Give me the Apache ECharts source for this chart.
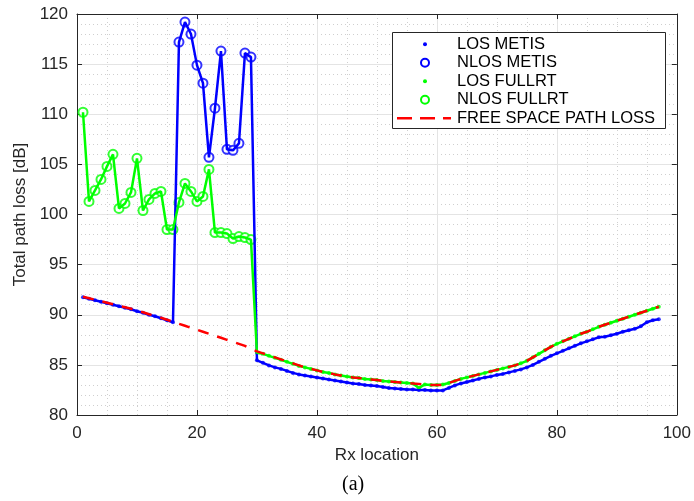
<!DOCTYPE html>
<html>
<head>
<meta charset="utf-8">
<script src="https://cdn.jsdelivr.net/npm/echarts@6/dist/echarts.min.js"></script>
<style>
  html, body { margin: 0; padding: 0; background: #fff; }
  #chart { width: 694px; height: 501px; }
</style>
</head>
<body>
<div id="chart"></div>
<script>
// Receiver positions along the route
const rxLocation = [
  1, 2, 3, 4, 5, 6, 7, 8, 9, 10, 11, 12, 13, 14, 15, 16, 17, 18, 19, 20,
  21, 22, 23, 24, 25, 26, 27, 28, 29, 30, 31, 32, 33, 34, 35, 36, 37, 38, 39, 40,
  41, 42, 43, 44, 45, 46, 47, 48, 49, 50, 51, 52, 53, 54, 55, 56, 57, 58, 59, 60,
  61, 62, 63, 64, 65, 66, 67, 68, 69, 70, 71, 72, 73, 74, 75, 76, 77, 78, 79, 80,
  81, 82, 83, 84, 85, 86, 87, 88, 89, 90, 91, 92, 93, 94, 95, 96, 97
];

// METIS path loss [dB]
const metisPathLoss = [
  91.75, 91.6, 91.45, 91.3, 91.15, 91.0, 90.85, 90.7, 90.55, 90.35, 90.2, 90.0, 89.85, 89.65, 89.45, 89.25,
  117.2, 119.2, 118.0, 114.9, 113.1, 105.7, 110.6, 116.3, 106.5, 106.4, 107.1, 116.1, 115.7,
  85.45, 85.2, 84.95, 84.75, 84.6, 84.4, 84.2, 84.05, 83.95, 83.85, 83.75, 83.65, 83.55, 83.45, 83.35, 83.25,
  83.15, 83.1, 83.0, 82.95, 82.9, 82.8, 82.7, 82.65, 82.6, 82.55, 82.55, 82.5, 82.5, 82.45, 82.45, 82.45,
  82.7, 82.95, 83.15, 83.3, 83.45, 83.6, 83.75, 83.85, 84.0, 84.1, 84.25, 84.4, 84.55, 84.75, 85.0, 85.3,
  85.6, 85.9, 86.15, 86.4, 86.65, 86.9, 87.15, 87.35, 87.55, 87.75, 87.8, 87.95, 88.1, 88.3, 88.45, 88.6,
  88.85, 89.25, 89.45, 89.55
];

// Full ray-tracing path loss [dB]
const fullrtPathLoss = [
  110.2, 101.3, 102.4, 103.5, 104.8, 106.0, 100.6, 101.1, 102.2, 105.6, 100.4, 101.5, 102.1, 102.3, 98.5, 98.5,
  101.2, 103.1, 102.3, 101.3, 101.8, 104.5, 98.2, 98.2, 98.1, 97.6, 97.8, 97.7, 97.5,
  86.2, 86.1, 85.9, 85.7, 85.5, 85.3, 85.1, 84.9, 84.75, 84.6, 84.45, 84.3, 84.2, 84.05, 83.95, 83.85,
  83.75, 83.7, 83.6, 83.55, 83.5, 83.4, 83.35, 83.3, 83.25, 83.2, 83.15, 82.7, 83.05, 83.0, 83.0, 83.05,
  83.2, 83.4, 83.6, 83.75, 83.9, 84.05, 84.2, 84.35, 84.5, 84.65, 84.8, 84.95, 85.15, 85.4, 85.75, 86.1,
  86.45, 86.8, 87.1, 87.35, 87.6, 87.85, 88.1, 88.3, 88.55, 88.8, 89.0, 89.2, 89.4, 89.6, 89.8, 90.0,
  90.2, 90.4, 90.6, 90.8
];

// Free space path loss [dB]
const fsplPathLoss = [
  91.8, 91.65, 91.5, 91.35, 91.2, 91.05, 90.9, 90.75, 90.6, 90.4, 90.25, 90.05, 89.9, 89.7, 89.5, 89.3,
  89.1, 88.9, 88.7, 88.5, 88.3, 88.1, 87.9, 87.7, 87.5, 87.3, 87.1, 86.9, 86.6,
  86.35, 86.15, 85.95, 85.75, 85.55, 85.35, 85.15, 84.95, 84.75, 84.6, 84.45, 84.3, 84.2, 84.05, 83.95, 83.85,
  83.75, 83.7, 83.6, 83.55, 83.5, 83.4, 83.35, 83.3, 83.25, 83.2, 83.15, 83.1, 83.05, 83.0, 83.0, 83.0,
  83.2, 83.4, 83.6, 83.75, 83.9, 84.05, 84.2, 84.35, 84.5, 84.65, 84.8, 84.95, 85.15, 85.4, 85.75, 86.1,
  86.45, 86.8, 87.1, 87.35, 87.6, 87.85, 88.1, 88.3, 88.55, 88.8, 89.0, 89.2, 89.4, 89.6, 89.8, 90.0,
  90.2, 90.4, 90.6, 90.8
];

// Receiver locations without line of sight, as [first, last]
const metisNlosRange = [17, 29];
const fullrtNlosRange = [1, 29];

// Axis ticks
const xTicks = [0, 20, 40, 60, 80, 100];
const yTicks = [80, 85, 90, 95, 100, 105, 110, 115, 120];

const legendNames = ['LOS METIS', 'NLOS METIS', 'LOS FULLRT', 'NLOS FULLRT', 'FREE SPACE PATH LOSS'];

const BLUE = '#0000ff';
const GREEN = '#00ff00';
const RED = '#ff0000';
const INK = '#262626';
const FONT = '"Liberation Sans", Arial, Helvetica, sans-serif';

function pairs(values) {
  return rxLocation.map((x, i) => [x, values[i]]);
}
function pick(values, range, inside) {
  return rxLocation
    .map((x, i) => [x, values[i]])
    .filter(p => (p[0] >= range[0] && p[0] <= range[1]) === inside);
}

// Legend box geometry
const LEG_LEFT = 396;        // left of the icon slot
const LEG_ICON_W = 55;       // icon slot width
const LEG_TOP = 35;          // top of the first row
const LEG_ROW = 18.5;        // row pitch
const rowCenter = i => LEG_TOP + LEG_ROW / 2 + i * LEG_ROW;
const iconCx = LEG_LEFT + LEG_ICON_W / 2 + 1.5;

const legendMarks = [
  { type: 'circle', z: 15, shape: { cx: iconCx, cy: rowCenter(0), r: 2 }, style: { fill: BLUE } },
  { type: 'circle', z: 15, shape: { cx: iconCx, cy: rowCenter(1), r: 4 }, style: { fill: 'none', stroke: BLUE, lineWidth: 2 } },
  { type: 'circle', z: 15, shape: { cx: iconCx, cy: rowCenter(2), r: 2 }, style: { fill: GREEN } },
  { type: 'circle', z: 15, shape: { cx: iconCx, cy: rowCenter(3), r: 4 }, style: { fill: 'none', stroke: GREEN, lineWidth: 2 } },
  { type: 'line', z: 15, shape: { x1: LEG_LEFT + 1, y1: rowCenter(4), x2: LEG_LEFT + LEG_ICON_W, y2: rowCenter(4) },
    style: { stroke: RED, lineWidth: 2.5, lineDash: [15, 8] } }
];

const chart = echarts.init(document.getElementById('chart'), null, { renderer: 'canvas' });

const baseX = {
  type: 'value',
  min: xTicks[0],
  max: xTicks[xTicks.length - 1],
  interval: xTicks[1] - xTicks[0]
};
const baseY = {
  type: 'value',
  min: yTicks[0],
  max: yTicks[yTicks.length - 1],
  interval: yTicks[1] - yTicks[0]
};

const axisLine = { show: true, onZero: false, lineStyle: { color: INK, width: 1 } };
const axisTick = { show: true, inside: true, length: 5, lineStyle: { color: INK, width: 1 } };
const majorGrid = { show: true, lineStyle: { color: '#e4e4e4', width: 1 } };
const minorGrid = { show: true, lineStyle: { color: '#cfcfcf', width: 1, type: [1, 3] } };

const option = {
  animation: false,
  backgroundColor: '#fff',
  grid: { left: 77, right: 16, top: 14, bottom: 86, containLabel: false },
  title: {
    text: '(a)',
    left: 342,
    top: 475,
    padding: 0,
    textStyle: { fontFamily: '"Liberation Serif", "Times New Roman", serif', fontSize: 20, fontWeight: 'normal', color: '#000' }
  },
  xAxis: [
    Object.assign({}, baseX, {
      position: 'bottom',
      name: 'Rx location',
      nameLocation: 'middle',
      nameGap: 29,
      nameTextStyle: { fontSize: 17, color: INK, fontFamily: FONT },
      axisLine: axisLine,
      axisTick: axisTick,
      axisLabel: { fontSize: 17, color: INK, fontFamily: FONT, margin: 10 },
      splitLine: majorGrid,
      minorTick: { show: false, splitNumber: 4 },
      minorSplitLine: minorGrid
    }),
    Object.assign({}, baseX, {
      position: 'top',
      axisLine: axisLine,
      axisTick: axisTick,
      axisLabel: { show: false },
      splitLine: { show: false }
    })
  ],
  yAxis: [
    Object.assign({}, baseY, {
      position: 'left',
      name: 'Total path loss [dB]',
      nameLocation: 'middle',
      nameGap: 41,
      nameTextStyle: { fontSize: 17, color: INK, fontFamily: FONT },
      axisLine: axisLine,
      axisTick: axisTick,
      axisLabel: { fontSize: 17, color: INK, fontFamily: FONT, margin: 9 },
      splitLine: majorGrid,
      minorTick: { show: false, splitNumber: 5 },
      minorSplitLine: minorGrid
    }),
    Object.assign({}, baseY, {
      position: 'right',
      axisLine: axisLine,
      axisTick: axisTick,
      axisLabel: { show: false },
      splitLine: { show: false }
    })
  ],
  legend: {
    data: legendNames.map(n => ({ name: n, icon: 'rect' })),
    orient: 'vertical',
    left: LEG_LEFT,
    top: LEG_TOP,
    padding: 0,
    itemGap: 0,
    itemWidth: LEG_ICON_W,
    itemHeight: 10,
    selectedMode: false,
    z: 20,
    itemStyle: { opacity: 0 },
    lineStyle: { opacity: 0 },
    textStyle: { fontSize: 16.5, lineHeight: LEG_ROW, color: '#000', fontFamily: FONT }
  },
  graphic: {
    elements: [{
      type: 'rect',
      z: 10,
      shape: { x: 392.5, y: 32.5, width: 273, height: 96 },
      style: { fill: '#fff', stroke: INK, lineWidth: 1 }
    }].concat(legendMarks)
  },
  series: [
    {
      name: 'METIS',
      type: 'line',
      data: pairs(metisPathLoss),
      showSymbol: false,
      lineStyle: { color: BLUE, width: 2.5 },
      itemStyle: { color: BLUE },
      emphasis: { disabled: true },
      silent: true
    },
    {
      name: legendNames[0],
      type: 'scatter',
      data: pick(metisPathLoss, metisNlosRange, false),
      symbol: 'circle',
      symbolSize: 4,
      itemStyle: { color: BLUE },
      emphasis: { disabled: true },
      silent: true
    },
    {
      name: legendNames[1],
      type: 'scatter',
      data: pick(metisPathLoss, metisNlosRange, true),
      symbol: 'emptyCircle',
      symbolSize: 9,
      itemStyle: { color: BLUE, borderColor: BLUE, borderWidth: 2 },
      emphasis: { disabled: true },
      silent: true
    },
    {
      name: 'FULLRT',
      type: 'line',
      data: pairs(fullrtPathLoss),
      showSymbol: false,
      lineStyle: { color: GREEN, width: 2.5 },
      itemStyle: { color: GREEN },
      emphasis: { disabled: true },
      silent: true
    },
    {
      name: legendNames[2],
      type: 'scatter',
      data: pick(fullrtPathLoss, fullrtNlosRange, false),
      symbol: 'circle',
      symbolSize: 4,
      itemStyle: { color: GREEN },
      emphasis: { disabled: true },
      silent: true
    },
    {
      name: legendNames[3],
      type: 'scatter',
      data: pick(fullrtPathLoss, fullrtNlosRange, true),
      symbol: 'emptyCircle',
      symbolSize: 9,
      itemStyle: { color: GREEN, borderColor: GREEN, borderWidth: 2 },
      emphasis: { disabled: true },
      silent: true
    },
    {
      name: legendNames[4],
      type: 'line',
      data: pairs(fsplPathLoss),
      showSymbol: false,
      symbol: 'none',
      lineStyle: { color: RED, width: 2.5, type: [11, 9] },
      itemStyle: { color: RED },
      emphasis: { disabled: true },
      silent: true
    }
  ]
};

chart.setOption(option);
</script>
</body>
</html>
